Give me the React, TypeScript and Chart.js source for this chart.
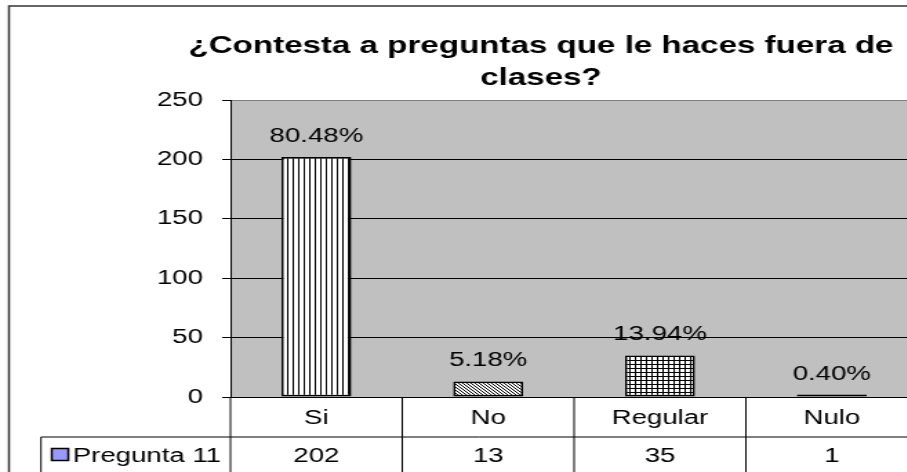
import { useEffect, useRef } from "react";
import { Chart, registerables } from "chart.js";

Chart.register(...registerables);

// ---- data ----
const TITLE_LINES = ["¿Contesta a preguntas que le haces fuera de", "clases?"];
const CATEGORIES = ["Si", "No", "Regular", "Nulo"];
const SERIES_NAME = "Pregunta 11";
const VALUES = [202, 13, 35, 1];
const Y_MIN = 0;
const Y_MAX = 250;
const Y_STEP = 50;

// ---- layout (logical px; canvas is stretched horizontally by SX) ----
const SX = 1.38;
const W = 673;
const H = 487;
const FONT = '"Liberation Sans", Arial, sans-serif';
const TABLE_ROW = 40;
const LEGEND_LEFT = 29.7;
const TITLE_CX = 392;

function makePattern(kind: string): CanvasPattern | string {
  const c = document.createElement("canvas");
  const size = kind === "diagonal" ? 3 : 4;
  c.width = size;
  c.height = size;
  const g = c.getContext("2d")!;
  g.fillStyle = "#fff";
  g.fillRect(0, 0, size, size);
  g.fillStyle = "#000";
  if (kind === "vertical") {
    g.fillRect(0, 0, 1, size);
  } else if (kind === "diagonal") {
    for (let i = 0; i < size; i++) g.fillRect(i, i, 1, 1);
  } else if (kind === "grid") {
    g.fillRect(0, 0, 1, size);
    g.fillRect(0, 0, size, 1);
  }
  const p = g.createPattern(c, "repeat");
  return p || "#fff";
}

export default function App() {
  const ref = useRef<HTMLCanvasElement>(null);

  useEffect(() => {
    const canvas = ref.current!;
    const total = VALUES.reduce((a, b) => a + b, 0);
    const pct = VALUES.map((v) => ((v / total) * 100).toFixed(2) + "%");
    const fills = [makePattern("vertical"), makePattern("diagonal"), makePattern("grid"), "#000"];

    const bgPlugin = {
      id: "bg",
      beforeDraw(chart: any) {
        const { ctx, chartArea } = chart;
        ctx.save();
        ctx.fillStyle = "#fff";
        ctx.fillRect(0, 0, chart.width, chart.height);
        ctx.fillStyle = "#C0C0C0";
        ctx.fillRect(chartArea.left, chartArea.top, chartArea.right - chartArea.left, chartArea.bottom - chartArea.top);
        // outer chart border (left and top visible)
        ctx.strokeStyle = "#333";
        ctx.lineWidth = 1.5;
        ctx.beginPath();
        ctx.moveTo(6.5, chart.height + 5);
        ctx.lineTo(6.5, 6);
        ctx.lineTo(chart.width + 5, 6);
        ctx.stroke();
        // title
        ctx.fillStyle = "#000";
        ctx.font = `bold 24px ${FONT}`;
        ctx.textAlign = "center";
        ctx.textBaseline = "alphabetic";
        TITLE_LINES.forEach((t, i) => ctx.fillText(t, TITLE_CX, 53 + i * 32));
        ctx.restore();
      },
    };

    const labelPlugin = {
      id: "pctLabels",
      afterDatasetsDraw(chart: any) {
        const { ctx } = chart;
        const meta = chart.getDatasetMeta(0);
        ctx.save();
        ctx.font = `20px ${FONT}`;
        ctx.fillStyle = "#000";
        ctx.textAlign = "center";
        ctx.textBaseline = "alphabetic";
        meta.data.forEach((el: any, i: number) => {
          const { x } = el.getProps(["x"], true);
          const y = chart.scales.y.getPixelForValue(VALUES[i]);
          ctx.fillText(pct[i], x, y - 15.5);
        });
        ctx.restore();
      },
    };

    const tablePlugin = {
      id: "dataTable",
      afterDraw(chart: any) {
        const { ctx, chartArea } = chart;
        const xs = chart.scales.x;
        const n = CATEGORIES.length;
        const left = chartArea.left;
        const right = chartArea.right;
        const colW = (right - left) / n;
        const top = chartArea.bottom;
        const mid = top + TABLE_ROW;
        const bot = top + TABLE_ROW * 2;
        ctx.save();
        ctx.strokeStyle = "#000";
        ctx.lineWidth = 1;
        ctx.beginPath();
        for (let i = 0; i <= n; i++) {
          const x = left + i * colW;
          ctx.moveTo(x, top);
          ctx.lineTo(x, bot);
        }
        ctx.moveTo(LEGEND_LEFT, mid);
        ctx.lineTo(right, mid);
        ctx.moveTo(LEGEND_LEFT, bot);
        ctx.lineTo(right, bot);
        ctx.moveTo(LEGEND_LEFT, mid);
        ctx.lineTo(LEGEND_LEFT, bot);
        ctx.stroke();

        ctx.fillStyle = "#000";
        ctx.font = `20px ${FONT}`;
        ctx.textAlign = "center";
        ctx.textBaseline = "middle";
        CATEGORIES.forEach((c, i) => {
          const cx = xs.getPixelForValue(i);
          ctx.fillText(c, cx, top + 21);
          ctx.fillText(String(VALUES[i]), cx, mid + 19);
        });

        // legend key
        ctx.fillStyle = "#9999FF";
        ctx.fillRect(37.5, mid + 11.5, 12, 12);
        ctx.strokeStyle = "#000";
        ctx.lineWidth = 1.5;
        ctx.strokeRect(37.5, mid + 11.5, 12, 12);
        ctx.fillStyle = "#000";
        ctx.textAlign = "left";
        ctx.fillText(SERIES_NAME, 52.7, mid + 19);
        ctx.restore();
      },
    };

    const chart = new Chart(canvas, {
      type: "bar",
      data: {
        labels: CATEGORIES,
        datasets: [
          {
            label: SERIES_NAME,
            data: VALUES,
            backgroundColor: fills as any,
            borderColor: "#000",
            borderWidth: 1.7,
            borderSkipped: false,
            categoryPercentage: 1,
            barPercentage: 0.407,
            minBarLength: 2.5,
          },
        ],
      },
      options: {
        responsive: false,
        animation: false,
        devicePixelRatio: 1,
        layout: { padding: { left: 40, right: 8, top: 100, bottom: 10 } },
        plugins: {
          legend: { display: false },
          tooltip: { enabled: false },
          title: { display: false },
        },
        scales: {
          x: {
            grid: { display: false, drawTicks: false },
            border: { display: true, color: "#000", width: 1 },
            ticks: { display: false },
            afterFit: (s: any) => {
              s.height = TABLE_ROW * 2;
            },
          },
          y: {
            min: Y_MIN,
            max: Y_MAX,
            ticks: {
              stepSize: Y_STEP,
              color: "#000",
              font: { family: FONT, size: 20 },
              padding: 14,
            },
            grid: {
              color: (c: any) => (c.tick && c.tick.value === Y_MAX ? "#808080" : "#000"),
              tickColor: "#000",
              tickLength: 6,
              lineWidth: 1,
            },
            border: { display: true, color: "#000", width: 1 },
            afterFit: (s: any) => {
              s.width = 127;
            },
          },
        },
      },
      plugins: [bgPlugin, labelPlugin, tablePlugin],
    });

    return () => chart.destroy();
  }, []);

  return (
    <div
      style={{
        position: "fixed",
        left: 0,
        top: 0,
        width: 907,
        height: 472,
        overflow: "hidden",
        background: "#fff",
      }}
    >
      <div style={{ width: W, height: H, transform: `scaleX(${SX})`, transformOrigin: "0 0" }}>
        <canvas ref={ref} width={W} height={H} style={{ display: "block", width: W, height: H }} />
      </div>
    </div>
  );
}
